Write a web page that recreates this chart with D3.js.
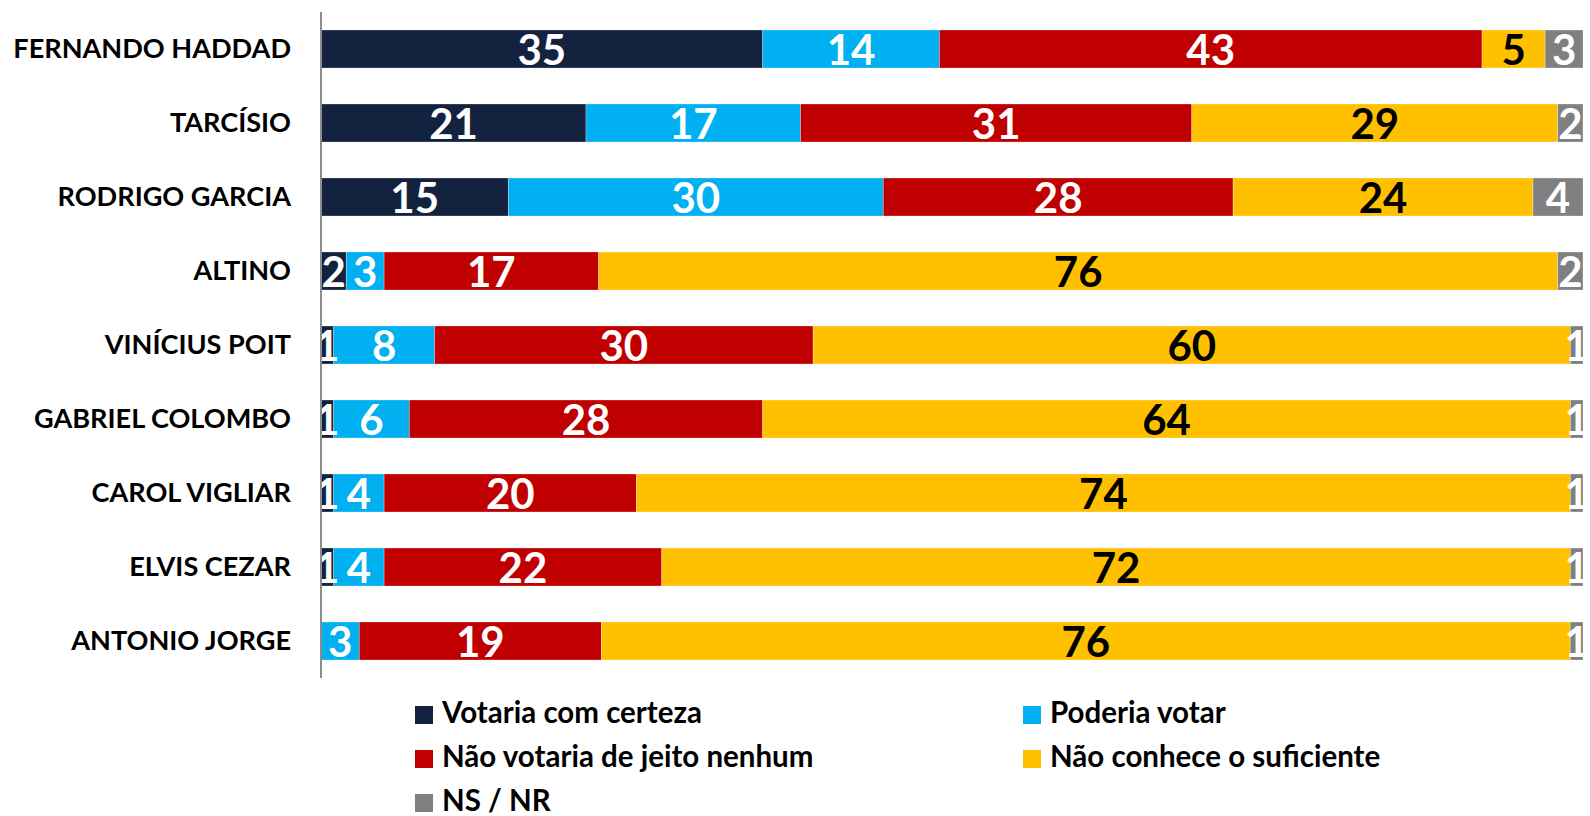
<!DOCTYPE html>
<html>
<head>
<meta charset="utf-8">
<script src="https://cdn.jsdelivr.net/npm/d3@7"></script>
<style>
  body { margin: 0; background: #fff; }
  svg { display: block; font-family: Lato, 'Open Sans', sans-serif; font-weight: bold; }
</style>
</head>
<body>
<svg id="chart"></svg>
<script>
const categories = ['FERNANDO HADDAD', 'TARCÍSIO', 'RODRIGO GARCIA', 'ALTINO', 'VINÍCIUS POIT',
  'GABRIEL COLOMBO', 'CAROL VIGLIAR', 'ELVIS CEZAR', 'ANTONIO JORGE'];
const seriesNames = ['Votaria com certeza', 'Poderia votar', 'Não votaria de jeito nenhum',
  'Não conhece o suficiente', 'NS / NR'];
const votariaCerteza = [35, 21, 15, 2, 1, 1, 1, 1, 0];
const poderiaVotar = [14, 17, 30, 3, 8, 6, 4, 4, 3];
const naoVotaria = [43, 31, 28, 17, 30, 28, 20, 22, 19];
const naoConhece = [5, 29, 24, 76, 60, 64, 74, 72, 76];
const nsNr = [3, 2, 4, 2, 1, 1, 1, 1, 1];
const colors = ['#13233f', '#00b0f0', '#c00000', '#ffc000', '#808080'];

const width = 1590, height = 816;
const margin = { top: 12, right: 7, bottom: 138, left: 321 };

const seriesValues = [votariaCerteza, poderiaVotar, naoVotaria, naoConhece, nsNr];
const rows = categories.map((c, i) => {
  const row = { name: c };
  seriesNames.forEach((s, j) => { row[s] = seriesValues[j][i]; });
  return row;
});

const stack = d3.stack().keys(seriesNames).offset(d3.stackOffsetExpand);
const stacked = stack(rows);

const svg = d3.select('#chart').attr('width', width).attr('height', height);

const x = d3.scaleLinear().domain([0, 1]).range([margin.left, width - margin.right]);
const y = d3.scaleBand().domain(categories)
  .range([margin.top, height - margin.bottom])
  .paddingInner(0.486).paddingOuter(0.243);
const z = d3.scaleOrdinal().domain(seriesNames).range(colors);

const layers = svg.append('g')
  .selectAll('g')
  .data(stacked)
  .enter()
  .append('g')
  .attr('fill', d => z(d.key));

layers.selectAll('rect')
  .data(d => d)
  .enter()
  .append('rect')
  .attr('x', d => x(d[0]))
  .attr('y', d => y(d.data.name))
  .attr('width', d => x(d[1]) - x(d[0]))
  .attr('height', y.bandwidth())
  .attr('stroke', '#ffffff')
  .attr('stroke-opacity', 0.35)
  .attr('stroke-width', 0.8);

// value labels
stacked.forEach(layer => {
  svg.append('g')
    .attr('font-size', 42)
    .attr('text-anchor', 'middle')
    .attr('fill', layer.key === 'Não conhece o suficiente' ? '#000' : '#fff')
    .selectAll('text')
    .data(layer.filter(d => d.data[layer.key] > 0))
    .enter()
    .append('text')
    .attr('x', d => (x(d[0]) + x(d[1])) / 2)
    .attr('y', d => y(d.data.name) + y.bandwidth() / 2)
    .attr('dy', '0.37em')
    .text(d => d.data[layer.key]);
});

// category axis
const yAxis = svg.append('g')
  .attr('transform', `translate(${margin.left},0)`)
  .call(d3.axisLeft(y).tickSize(0).tickPadding(30));
yAxis.select('.domain')
  .attr('stroke', '#8c8c8c')
  .attr('stroke-width', 2)
  .attr('d', `M0,${margin.top}V${height - margin.bottom}`);
yAxis.selectAll('text')
  .attr('font-size', 27.1)
  .attr('font-family', 'Lato, sans-serif')
  .attr('font-weight', 'bold')
  .attr('fill', '#000');

// legend
const legend = svg.append('g')
  .attr('font-size', 29.5)
  .selectAll('g')
  .data(seriesNames)
  .enter()
  .append('g')
  .attr('transform', (d, i) => `translate(${i % 2 === 0 ? 415 : 1023}, ${706 + Math.floor(i / 2) * 44})`);

legend.append('rect')
  .attr('width', 18)
  .attr('height', 18)
  .attr('fill', z);

legend.append('text')
  .attr('x', 27)
  .attr('y', 17)
  .attr('fill', '#000')
  .text(d => d);
</script>
</body>
</html>
